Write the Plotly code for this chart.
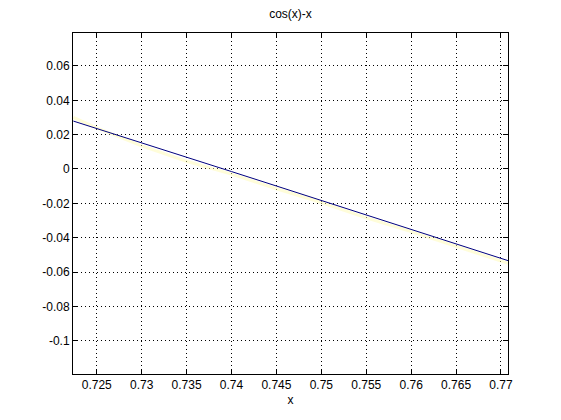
import plotly.graph_objects as go

x_vals = [0.7224, 0.725, 0.73, 0.735, 0.74, 0.745, 0.75, 0.755, 0.76, 0.765, 0.77, 0.7708]
y_blue = [0.0279, 0.0235, 0.0152, 0.0068, -0.0015, -0.0099, -0.0183, -0.0267, -0.0352, -0.0436, -0.0521, -0.0534]
y_yellow = [0.0300, 0.0240, 0.0135, 0.0045, -0.0030, -0.0115, -0.0195, -0.0285, -0.0365, -0.0450, -0.0535, -0.0550]

x_ticks = [0.725, 0.73, 0.735, 0.74, 0.745, 0.75, 0.755, 0.76, 0.765, 0.77]
x_tick_text = ["0.725", "0.73", "0.735", "0.74", "0.745", "0.75", "0.755", "0.76", "0.765", "0.77"]
y_ticks = [0.06, 0.04, 0.02, 0, -0.02, -0.04, -0.06, -0.08, -0.1]
y_tick_text = ["0.06", "0.04", "0.02", "0", "-0.02", "-0.04", "-0.06", "-0.08", "-0.1"]

fig = go.Figure()
fig.add_trace(go.Scatter(x=x_vals, y=y_yellow, mode="lines",
                         line=dict(color="rgba(255,250,170,0.45)", width=3),
                         showlegend=False, hoverinfo="skip"))
fig.add_trace(go.Scatter(x=x_vals, y=y_blue, mode="lines",
                         line=dict(color="#00007f", width=1),
                         showlegend=False))

font = dict(family="Liberation Sans, Arial", size=12, color="black")
axis_common = dict(
    showline=True, linecolor="black", linewidth=1, mirror="ticks",
    ticks="inside", ticklen=5, tickcolor="black",
    showgrid=True, gridcolor="black", gridwidth=1, griddash="1px,3px",
    zeroline=False, automargin=False,
    tickfont=font,
)

W, H = 553, 412
L, T, R, B = 65, 25, 500, 366
fig.update_layout(
    width=W, height=H,
    margin=dict(l=L, r=W - R, t=T, b=H - B),
    paper_bgcolor="white", plot_bgcolor="white",
    title=dict(text="cos(x)-x", x=(L + R) / 2 / W, xanchor="center",
               y=1 - 6 / H, yanchor="middle", yref="container",
               font=font),
    xaxis=dict(range=[0.72236, 0.77078], tickvals=x_ticks, ticktext=x_tick_text,
               title=dict(text="x", standoff=4, font=font),
               **axis_common),
    yaxis=dict(range=[-0.1194, 0.0792], tickvals=y_ticks, ticktext=y_tick_text,
               **axis_common),
)

fig.write_html("out.html")
